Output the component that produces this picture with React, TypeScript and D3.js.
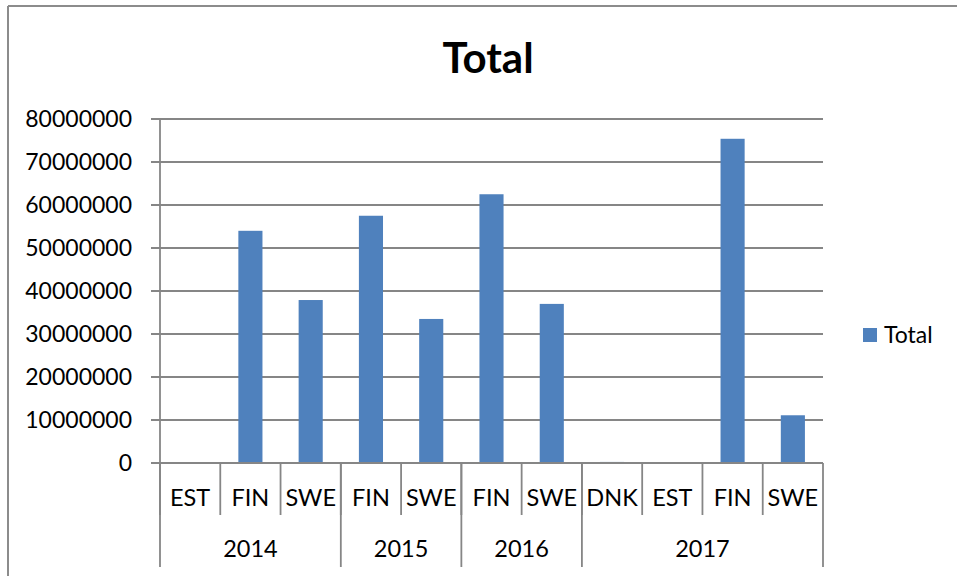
import React from "react";
import * as d3 from "d3";

const categories = ["EST", "FIN", "SWE", "FIN", "SWE", "FIN", "SWE", "DNK", "EST", "FIN", "SWE"];
const years = ["2014", "2014", "2014", "2015", "2015", "2016", "2016", "2017", "2017", "2017", "2017"];
const totals = [200000, 54000000, 37900000, 57500000, 33500000, 62500000, 37000000, 250000, 20000, 75400000, 11100000];
const yTicks = [0, 10000000, 20000000, 30000000, 40000000, 50000000, 60000000, 70000000, 80000000];
const seriesName = "Total";
const title = "Total";

const W = 957;
const H = 576;
const left = 160;
const right = 823;
const top = 119;
const bottom = 463;
const font = "Lato, 'Open Sans', sans-serif";
const gridColor = "#868686";
const barColor = "#4F81BD";

export default function App() {
  const idx = categories.map((_, i) => String(i));
  const x = d3.scaleBand<string>().domain(idx).range([left, right]).paddingInner(0).paddingOuter(0);
  const y = d3.scaleLinear().domain([0, 80000000]).range([bottom, top]);
  const bw = x.bandwidth();
  const barW = bw * 0.4;

  const groups: { year: string; start: number; end: number }[] = [];
  years.forEach((yr, i) => {
    const g = groups[groups.length - 1];
    if (g && g.year === yr) g.end = i;
    else groups.push({ year: yr, start: i, end: i });
  });

  return (
    <svg width={W} height={H} style={{ position: "absolute", left: 0, top: 0, background: "#fff" }}>
      <rect x={0} y={0} width={W} height={H} fill="#fff" />
      <line x1={8} y1={6} x2={W} y2={6} stroke="#8c8c8c" strokeWidth={2} />
      <line x1={8} y1={6} x2={8} y2={H} stroke="#8c8c8c" strokeWidth={2} />
      <text x={488} y={73} textAnchor="middle" fontFamily={font} fontWeight="bold" fontSize={42} fill="#000">
        {title}
      </text>
      {yTicks.map((t) => (
        <g key={t}>
          <line x1={151} x2={x.range()[1]} y1={y(t)} y2={y(t)} stroke={gridColor} strokeWidth={1.8} />
          <text x={132} y={y(t)} dy="0.35em" textAnchor="end" fontFamily={font} fontSize={23} fill="#000">
            {t}
          </text>
        </g>
      ))}
      {totals.map((v, i) => (
        <rect
          key={i}
          x={(x(String(i)) as number) + (bw - barW) / 2}
          y={y(v)}
          width={barW}
          height={Math.max(0, y(0) - y(v))}
          fill={barColor}
        />
      ))}
      <line x1={left} x2={left} y1={top} y2={bottom} stroke={gridColor} strokeWidth={1.8} />
      <line x1={151} x2={x.range()[1]} y1={bottom} y2={bottom} stroke={gridColor} strokeWidth={1.8} />
      {categories.map((c, i) => (
        <g key={i}>
          <line
            x1={x(String(i)) as number}
            x2={x(String(i)) as number}
            y1={bottom}
            y2={515}
            stroke={gridColor}
            strokeWidth={1.8}
          />
          <text
            x={(x(String(i)) as number) + bw / 2}
            y={498}
            dy="0.35em"
            textAnchor="middle"
            fontFamily={font}
            fontSize={23.5}
            fill="#000"
          >
            {c}
          </text>
        </g>
      ))}
      {groups.map((g) => (
        <line
          key={"s" + g.year}
          x1={x(String(g.start)) as number}
          x2={x(String(g.start)) as number}
          y1={bottom}
          y2={567}
          stroke={gridColor}
          strokeWidth={1.8}
        />
      ))}
      <line x1={right} x2={right} y1={bottom} y2={567} stroke={gridColor} strokeWidth={1.8} />
      {groups.map((g) => (
        <text
          key={"y" + g.year}
          x={((x(String(g.start)) as number) + (x(String(g.end)) as number) + bw) / 2}
          y={549}
          dy="0.35em"
          textAnchor="middle"
          fontFamily={font}
          fontSize={23.5}
          fill="#000"
        >
          {g.year}
        </text>
      ))}
      <rect x={863} y={328} width={14} height={14} fill={barColor} />
      <text x={884} y={335} dy="0.35em" fontFamily={font} fontSize={23} fill="#000">
        {seriesName}
      </text>
    </svg>
  );
}
